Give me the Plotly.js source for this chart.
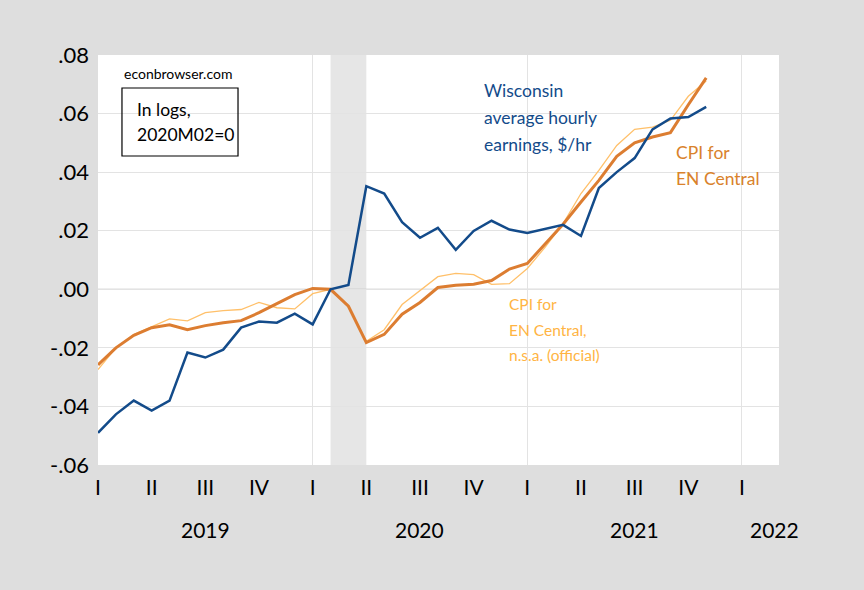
<!DOCTYPE html>
<html>
<head>
<meta charset="utf-8">
<script src="https://cdn.plot.ly/plotly-3.0.1.min.js"></script>
<style>
  html, body { margin: 0; padding: 0; background: #dedede; }
  #chart { width: 864px; height: 590px; }
</style>
</head>
<body>
<div id="chart"></div>
<script>
// Months 2019M01 .. 2021M11
const months = [
  "2019M01","2019M02","2019M03","2019M04","2019M05","2019M06","2019M07","2019M08","2019M09","2019M10","2019M11","2019M12",
  "2020M01","2020M02","2020M03","2020M04","2020M05","2020M06","2020M07","2020M08","2020M09","2020M10","2020M11","2020M12",
  "2021M01","2021M02","2021M03","2021M04","2021M05","2021M06","2021M07","2021M08","2021M09","2021M10","2021M11"
];

// Wisconsin average hourly earnings, log, 2020M02 = 0
const wiEarnings = [
  -0.0490, -0.0427, -0.0380, -0.0414, -0.0380, -0.0216, -0.0233, -0.0206, -0.0131, -0.0110, -0.0114, -0.0083,
  -0.0120, 0.0000, 0.0015, 0.0352, 0.0327, 0.0229, 0.0176, 0.0210, 0.0135, 0.0199, 0.0234, 0.0204,
  0.0192, 0.0206, 0.0220, 0.0182, 0.0346, 0.0400, 0.0448, 0.0546, 0.0583, 0.0588, 0.0623
];

// CPI for EN Central (seasonally adjusted)
const cpiSA = [
  -0.0258, -0.0200, -0.0157, -0.0131, -0.0121, -0.0138, -0.0124, -0.0114, -0.0107, -0.0080, -0.0049, -0.0018,
  0.0003, 0.0000, -0.0058, -0.0182, -0.0154, -0.0085, -0.0045, 0.0006, 0.0014, 0.0017, 0.0030, 0.0069,
  0.0088, 0.0156, 0.0222, 0.0298, 0.0372, 0.0454, 0.0500, 0.0520, 0.0535, 0.0630, 0.0722
];

// CPI for EN Central, n.s.a. (official)
const cpiNSA = [
  -0.0274, -0.0200, -0.0155, -0.0129, -0.0101, -0.0108, -0.0080, -0.0073, -0.0069, -0.0045, -0.0063, -0.0067,
  -0.0015, 0.0000, -0.0060, -0.0178, -0.0138, -0.0052, -0.0003, 0.0043, 0.0054, 0.0050, 0.0017, 0.0019,
  0.0071, 0.0144, 0.0224, 0.0327, 0.0406, 0.0491, 0.0546, 0.0554, 0.0577, 0.0659, 0.0711
];

// Axis labels
const quarterLabels = ["I","II","III","IV"];
const years = [2019, 2020, 2021, 2022];
const yTickVals = [-0.06, -0.04, -0.02, 0.00, 0.02, 0.04, 0.06, 0.08];
const yTickText = ["-.06", "-.04", "-.02", ".00", ".02", ".04", ".06", ".08"];
const recession = ["2020M02", "2020M04"];

// Month index positions
const idx = months.map((_, i) => i);
const monthIndex = (y, m) => (y - years[0]) * 12 + (m - 1);
const qTickVals = [], qTickText = [];
for (let y = years[0]; y <= years[years.length - 1]; y++) {
  for (let q = 0; q < 4; q++) {
    const v = monthIndex(y, q * 3 + 1);
    if (v <= 37) { qTickVals.push(v); qTickText.push(quarterLabels[q]); }
  }
}
const yearStarts = years.map(y => monthIndex(y, 1));

const FONT = "Lato, 'Open Sans', sans-serif";
const BLUE = "#134b8a";
const ORANGE = "#dc7d31";
const LIGHT = "#ffc06a";

const traces = [
  { x: idx, y: cpiNSA, text: months, type: "scatter", mode: "lines",
    line: { color: LIGHT, width: 1.3 }, hoverinfo: "text+y", name: "CPI n.s.a." },
  { x: idx, y: cpiSA, text: months, type: "scatter", mode: "lines",
    line: { color: ORANGE, width: 3 }, hoverinfo: "text+y", name: "CPI" },
  { x: idx, y: wiEarnings, text: months, type: "scatter", mode: "lines",
    line: { color: BLUE, width: 2.5 }, hoverinfo: "text+y", name: "Wisconsin AHE" }
];

const annText = (text, x, y, color, size) => ({
  text: text, x: x, y: y, xref: "paper", yref: "paper", xanchor: "left", yanchor: "middle",
  showarrow: false, font: { family: FONT, size: size, color: color }
});

const annotations = [
  annText("econbrowser.com", 0.0357, 0.956, "#000", 14),
  annText("In logs,", 0.0543, 0.868, "#000", 17.5),
  annText("2020M02=0", 0.0543, 0.805, "#000", 17.5),
  annText("Wisconsin", 0.5634, 0.9146, BLUE, 17.5),
  annText("average hourly", 0.5634, 0.848, BLUE, 17.5),
  annText("earnings, $/hr", 0.5634, 0.782, BLUE, 17.5),
  annText("CPI for", 0.8465, 0.7627, "#d9822b", 17.5),
  annText("EN Central", 0.8465, 0.6976, "#d9822b", 17.5),
  annText("CPI for", 0.6009, 0.392, "#ffb443", 15.5),
  annText("EN Central,", 0.6009, 0.329, "#ffb443", 15.5),
  annText("n.s.a. (official)", 0.6009, 0.268, "#ffb443", 15.5)
];
const yearLabelX = [6, 18, 30, 37.8];
years.forEach((y, i) => {
  annotations.push({ text: String(y), x: yearLabelX[i], y: -0.157, xref: "x", yref: "paper",
    xanchor: "center", yanchor: "middle", showarrow: false,
    font: { family: FONT, size: 21, color: "#000" } });
});

const layout = {
  width: 864, height: 590,
  paper_bgcolor: "#dedede", plot_bgcolor: "#ffffff",
  margin: { l: 98, r: 85, t: 55, b: 125 },
  showlegend: false,
  font: { family: FONT, color: "#000" },
  xaxis: {
    type: "linear", range: [0, 38.07], fixedrange: true,
    tickmode: "array", tickvals: qTickVals, ticktext: qTickText,
    showgrid: false, zeroline: false, showline: false, ticks: "",
    ticklabelstandoff: 8,
    tickfont: { family: FONT, size: 21, color: "#000" },
    minor: { tickmode: "array", tickvals: yearStarts, showgrid: true, gridcolor: "#e3e3e3", gridwidth: 1, ticks: "" }
  },
  yaxis: {
    range: [-0.06, 0.08], fixedrange: true,
    tickmode: "array", tickvals: yTickVals, ticktext: yTickText,
    showgrid: true, gridcolor: "#e3e3e3", gridwidth: 1,
    zeroline: false, showline: false, ticks: "",
    ticklabelstandoff: 8,
    tickfont: { family: FONT, size: 22, color: "#000" }
  },
  shapes: [
    { type: "rect", xref: "x", yref: "paper", x0: months.indexOf(recession[0]), x1: months.indexOf(recession[1]),
      y0: 0, y1: 1, fillcolor: "#e6e6e6", line: { width: 0 }, layer: "between" },
    { type: "line", xref: "paper", yref: "y", x0: 0, x1: 1, y0: 0, y1: 0,
      line: { color: "#bdbdbd", width: 1.2 }, layer: "between" },
    { type: "rect", xref: "paper", yref: "paper", x0: 0.0352, x1: 0.2056, y0: 0.7537, y1: 0.9195,
      fillcolor: "rgba(0,0,0,0)", line: { color: "#000", width: 1.2 }, layer: "above" }
  ],
  annotations: annotations
};

Plotly.newPlot("chart", traces, layout, { displayModeBar: false, staticPlot: true });
</script>
</body>
</html>
